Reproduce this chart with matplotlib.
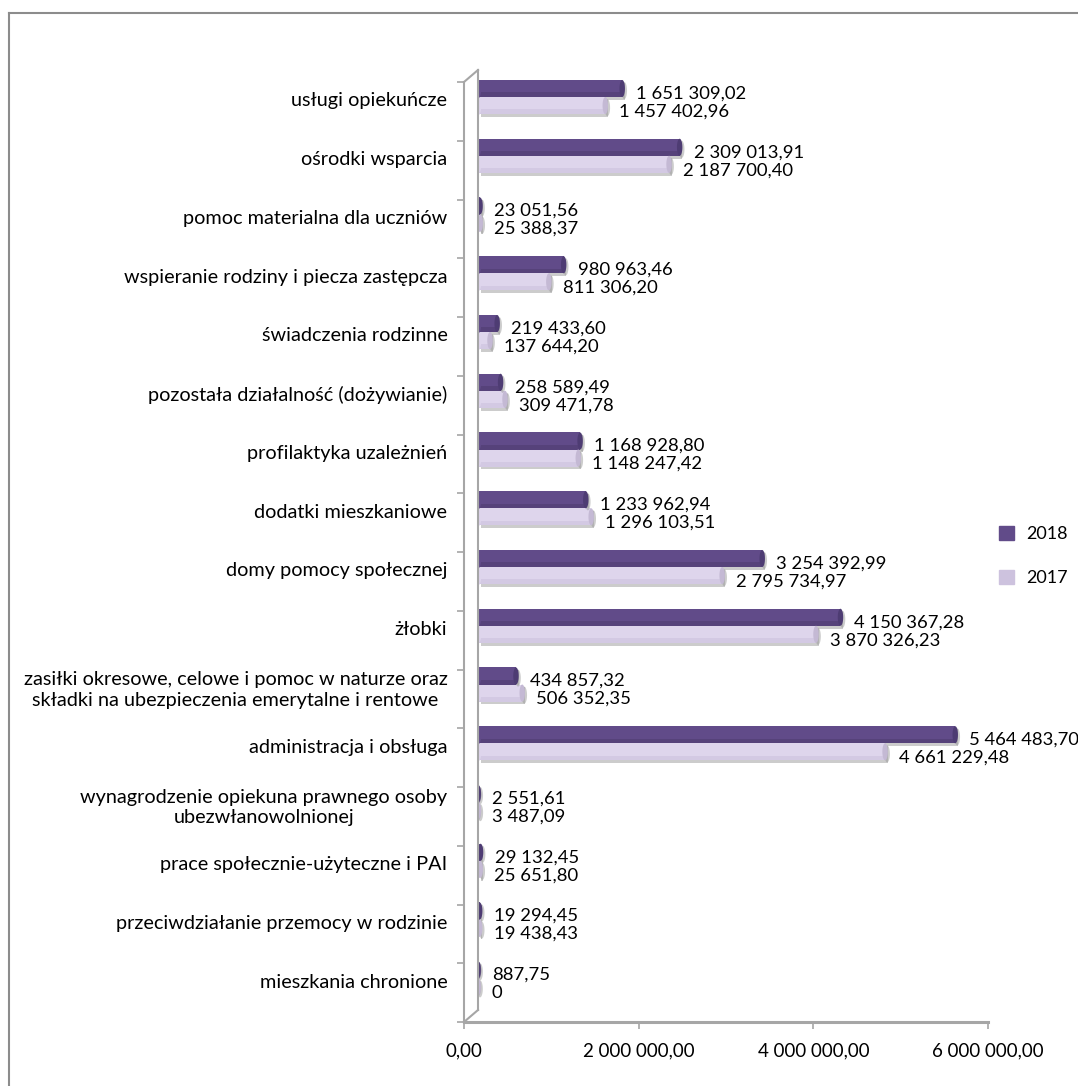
import matplotlib
matplotlib.use("Agg")
import matplotlib.pyplot as plt
import matplotlib.patheffects as pe
from matplotlib.lines import Line2D
from matplotlib.patches import Patch
from matplotlib.path import Path
import numpy as np

plt.rcParams['font.family'] = ['Lato', 'DejaVu Sans']

categories = ['usługi opiekuńcze',
              'ośrodki wsparcia',
              'pomoc materialna dla uczniów',
              'wspieranie rodziny i piecza zastępcza',
              'świadczenia rodzinne',
              'pozostała działalność (dożywianie)',
              'profilaktyka uzależnień',
              'dodatki mieszkaniowe',
              'domy pomocy społecznej',
              'żłobki',
              'zasiłki okresowe, celowe i pomoc w naturze oraz\nskładki na ubezpieczenia emerytalne i rentowe',
              'administracja i obsługa',
              'wynagrodzenie opiekuna prawnego osoby\nubezwłanowolnionej',
              'prace społecznie-użyteczne i PAI',
              'przeciwdziałanie przemocy w rodzinie',
              'mieszkania chronione']
vals_2018 = [1651309.02, 2309013.91, 23051.56, 980963.46, 219433.60, 258589.49,
             1168928.80, 1233962.94, 3254392.99, 4150367.28, 434857.32, 5464483.70,
             2551.61, 29132.45, 19294.45, 887.75]
vals_2017 = [1457402.96, 2187700.40, 25388.37, 811306.20, 137644.20, 309471.78,
             1148247.42, 1296103.51, 2795734.97, 3870326.23, 506352.35, 4661229.48,
             3487.09, 25651.80, 19438.43, 0]
xticks = [0, 2000000, 4000000, 6000000]

# colours: main face, lower strip, end cap
c18, c18d, c18c = '#614b89', '#56427a', '#4e3c73'
c17, c17d, c17c = '#ded5ec', '#d3c9e3', '#c4b9d4'
grey = '#a6a6a6'


def fmt(v):
    if v == 0:
        return '0'
    s = f'{v:,.2f}'
    return s.replace(',', ' ').replace('.', ',')


W, H = 1078, 1086
fig = plt.figure(figsize=(W / 100, H / 100), dpi=100)

# back plane (bars) and front plane (axis lines)
bx0, bx1, by0, by1 = 478, 1002, 1010, 70
fx0, fy0, dx, dy = 464, 1022, 14, 12
ax = fig.add_axes([bx0 / W, 1 - by0 / H, (bx1 - bx0) / W, (by0 - by1) / H])
axf = fig.add_axes([fx0 / W, 1 - fy0 / H, (bx1 - bx0) / W, (by0 - by1) / H], zorder=-1)
axf.patch.set_visible(False)

n = len(categories)
y = np.arange(n)[::-1]
h = 0.29
off = 0.04
band_px = (by0 - by1) / n
cap_size = (h * band_px * 0.72) ** 2

# vertical ellipse used as rounded bar end
t = np.linspace(0, 2 * np.pi, 40)
ellipse = Path(np.column_stack([0.32 * np.cos(t), np.sin(t)]), closed=True)

sh = [pe.SimplePatchShadow(offset=(2, -2), shadow_rgbFace='#9a9a9a', alpha=0.5), pe.Normal()]
for vals, yc, cm, cd, cc, lab in [(vals_2018, y + h / 2 + off, c18, c18d, c18c, '2018'),
                                  (vals_2017, y - h / 2 + off, c17, c17d, c17c, '2017')]:
    ax.barh(yc, vals, height=h, color=cm, linewidth=0, path_effects=sh, label=lab, zorder=2)
    ax.barh(yc - h * 0.36, vals, height=h * 0.28, color=cd, linewidth=0, zorder=3)
    ax.scatter(np.zeros(n), yc, s=cap_size, marker=ellipse, color=cm, linewidths=0, zorder=3)
    ax.scatter(vals, yc, s=cap_size, marker=ellipse, color=cc, linewidths=0, zorder=4,
               path_effects=[pe.SimplePatchShadow(offset=(1.5, -1.5), shadow_rgbFace='#9a9a9a',
                                                  alpha=0.5), pe.Normal()])

for yi, v in zip(y, vals_2018):
    ax.annotate(fmt(v), (v, yi + h / 2 + off), xytext=(14, -5), textcoords='offset pixels',
                va='center', ha='left', fontsize=13.3, color='black', zorder=5)
for yi, v in zip(y, vals_2017):
    ax.annotate(fmt(v), (v, yi - h / 2 + off), xytext=(14, -6), textcoords='offset pixels',
                va='center', ha='left', fontsize=13.3, color='black', zorder=5)

ax.set_xlim(0, 6000000)
ax.set_ylim(-0.5, n - 0.5)
ax.set_xticks([])
ax.set_yticks(y)
ax.set_yticklabels(categories, fontsize=14.3, multialignment='center', linespacing=1.25)
ax.tick_params(axis='y', length=0, pad=22)
for s in ['top', 'right', 'bottom']:
    ax.spines[s].set_visible(False)
ax.spines['left'].set_color(grey)
ax.spines['left'].set_linewidth(1.5)
ax.spines['left'].set_zorder(6)
ax.patch.set_visible(False)

axf.set_xlim(0, 6000000)
axf.set_ylim(-0.5, n - 0.5)
axf.set_xticks(xticks)
axf.set_xticklabels([fmt(v) if v else '0,00' for v in xticks], fontsize=13.5)
axf.set_yticks(np.arange(n + 1) - 0.5)
axf.set_yticklabels([])
axf.tick_params(axis='x', length=5, color=grey, width=1.2, pad=10)
axf.tick_params(axis='y', length=5, color=grey, width=1.2)
for s in ['top', 'right']:
    axf.spines[s].set_visible(False)
axf.spines['left'].set_color(grey)
axf.spines['left'].set_linewidth(1.5)
axf.spines['bottom'].set_color(grey)
axf.spines['bottom'].set_linewidth(2.2)

# wall diagonals joining front and back planes
for yy in (fy0, fy0 - (by0 - by1)):
    fig.add_artist(Line2D([fx0 / W, (fx0 + dx) / W], [1 - yy / H, 1 - (yy - dy) / H],
                          color=grey, lw=1.5))

# chart border (top and left)
fig.add_artist(Line2D([9 / W, 9 / W], [0, 1 - 13 / H], color='#8c8c8c', lw=1.5))
fig.add_artist(Line2D([9 / W, 1], [1 - 13 / H, 1 - 13 / H], color='#8c8c8c', lw=1.5))

handles = [Patch(color=c18, label='2018'), Patch(color='#cdc2de', label='2017')]
fig.legend(handles=handles, loc='center left', bbox_to_anchor=(992 / W, 1 - 556 / H),
           frameon=False, fontsize=13, labelspacing=1.55, handlelength=0.8,
           handleheight=0.8, handletextpad=0.7, borderaxespad=0)

fig.savefig('out.png', dpi=100)
